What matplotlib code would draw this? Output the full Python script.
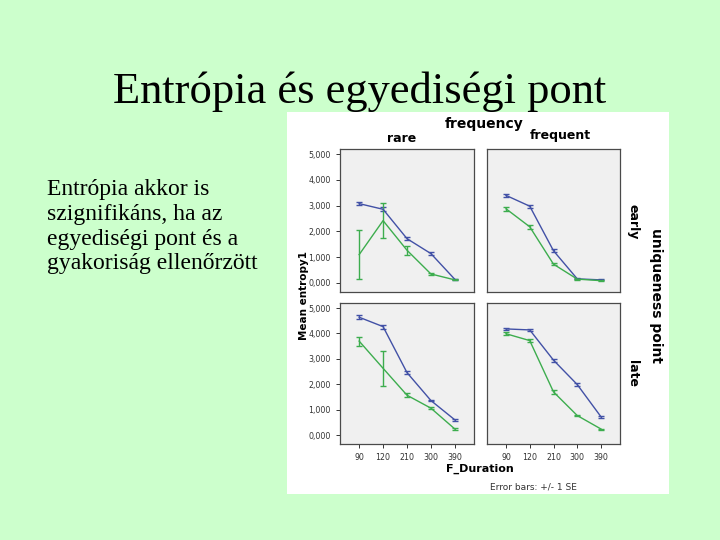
import numpy as np
import matplotlib
matplotlib.use("Agg")
import matplotlib.pyplot as plt

# Data (Mean entropy1, +/- 1 SE)
durations = ["90", "120", "210", "300", "390"]
ytick_vals = [0, 1, 2, 3, 4, 5]
ytick_labels = ["0,000", "1,000", "2,000", "3,000", "4,000", "5,000"]

# early uniqueness point
early_rare_blue = [3.08, 2.86, 1.72, 1.14, 0.14]
early_rare_blue_se = [0.07, 0.07, 0.05, 0.06, 0.03]
early_rare_green = [1.10, 2.42, 1.27, 0.35, 0.12]
early_rare_green_se = [0.94, 0.67, 0.18, 0.03, 0.02]
early_freq_blue = [3.40, 2.98, 1.25, 0.16, 0.12]
early_freq_blue_se = [0.06, 0.06, 0.06, 0.02, 0.02]
early_freq_green = [2.88, 2.18, 0.73, 0.15, 0.09]
early_freq_green_se = [0.08, 0.08, 0.04, 0.02, 0.02]

# late uniqueness point
late_rare_blue = [4.64, 4.27, 2.46, 1.36, 0.60]
late_rare_blue_se = [0.07, 0.08, 0.06, 0.03, 0.03]
late_rare_green = [3.70, 2.63, 1.57, 1.06, 0.24]
late_rare_green_se = [0.18, 0.68, 0.08, 0.04, 0.03]
late_freq_blue = [4.18, 4.14, 2.95, 1.99, 0.72]
late_freq_blue_se = [0.04, 0.05, 0.06, 0.07, 0.03]
late_freq_green = [3.99, 3.72, 1.70, 0.77, 0.24]
late_freq_green_se = [0.06, 0.07, 0.07, 0.03, 0.02]

BG = "#CCFFCC"
BLUE = "#4251A6"
GREEN = "#3DAD4E"


def px_axes(fig, x0, y0, x1, y1, **kw):
    """Add axes from pixel box (top-left origin)."""
    W, H = 720, 540
    return fig.add_axes([x0 / W, 1 - y1 / H, (x1 - x0) / W, (y1 - y0) / H], **kw)


def draw_panel(ax, blue, blue_se, green, green_se, left, bottom):
    x = np.arange(len(durations))
    ax.set_facecolor("#F0F0F0")
    for vals, se, col in [(blue, blue_se, BLUE), (green, green_se, GREEN)]:
        ax.errorbar(x, vals, yerr=se, color=col, lw=1.0, elinewidth=1.0,
                    capsize=2.5, capthick=1.0)
    ax.set_xlim(-0.8, 4.8)
    ax.set_ylim(-0.35, 5.2)
    for s in ax.spines.values():
        s.set_color("#4a4a4a")
        s.set_linewidth(0.9)
    ax.set_yticks(ytick_vals)
    ax.set_xticks(x)
    ax.tick_params(labelsize=5.7, colors="#333333", length=3, width=0.7)
    if left:
        ax.set_yticklabels(ytick_labels)
    else:
        ax.tick_params(axis="y", length=0, labelleft=False)
    if bottom:
        ax.set_xticklabels(durations)
    else:
        ax.tick_params(axis="x", length=0, labelbottom=False)


fig = plt.figure(figsize=(7.2, 5.4), dpi=100, facecolor=BG)

# white picture area behind the panels
bg_ax = px_axes(fig, 287, 112, 669, 494, zorder=-5)
bg_ax.set_facecolor("white")
bg_ax.set_xticks([])
bg_ax.set_yticks([])
for s in bg_ax.spines.values():
    s.set_visible(False)

# slide text
fig.text(0.5, 1 - 92 / 540, "Entrópia és egyediségi pont", ha="center", va="center",
         family="Liberation Serif", fontsize=32)
body = ["Entrópia akkor is", "szignifikáns, ha az", "egyediségi pont és a",
        "gyakoriság ellenőrzött"]
for i, line in enumerate(body):
    fig.text(47 / 720, 1 - (189 + 25 * i) / 540, line, ha="left", va="center",
             family="Liberation Serif", fontsize=17)

ax_er = px_axes(fig, 340, 149, 474, 292)
ax_ef = px_axes(fig, 487, 149, 620, 292)
ax_lr = px_axes(fig, 340, 303, 474, 444)
ax_lf = px_axes(fig, 487, 303, 620, 444)

draw_panel(ax_er, early_rare_blue, early_rare_blue_se, early_rare_green, early_rare_green_se, True, False)
draw_panel(ax_ef, early_freq_blue, early_freq_blue_se, early_freq_green, early_freq_green_se, False, False)
draw_panel(ax_lr, late_rare_blue, late_rare_blue_se, late_rare_green, late_rare_green_se, True, True)
draw_panel(ax_lf, late_freq_blue, late_freq_blue_se, late_freq_green, late_freq_green_se, False, True)


def ftxt(x, y, s, **kw):
    fig.text(x / 720, 1 - y / 540, s, ha="center", va="center",
             family="DejaVu Sans", **kw)


ftxt(484, 124, "frequency", fontsize=10, fontweight="bold")
ftxt(402, 139, "rare", fontsize=9, fontweight="bold")
ftxt(560, 135, "frequent", fontsize=9, fontweight="bold")
ftxt(304, 295, "Mean entropy1", fontsize=7.5, fontweight="bold", rotation=90)
ftxt(633, 222, "early", fontsize=9, fontweight="bold", rotation=-90)
ftxt(633, 373, "late", fontsize=9, fontweight="bold", rotation=-90)
ftxt(656, 295, "uniqueness point", fontsize=10, fontweight="bold", rotation=-90)
ftxt(480, 469, "F_Duration", fontsize=8, fontweight="bold")
ftxt(533, 487, "Error bars: +/- 1 SE", fontsize=6.5, color="#333333")

fig.savefig("out.png", dpi=100, facecolor=BG)
